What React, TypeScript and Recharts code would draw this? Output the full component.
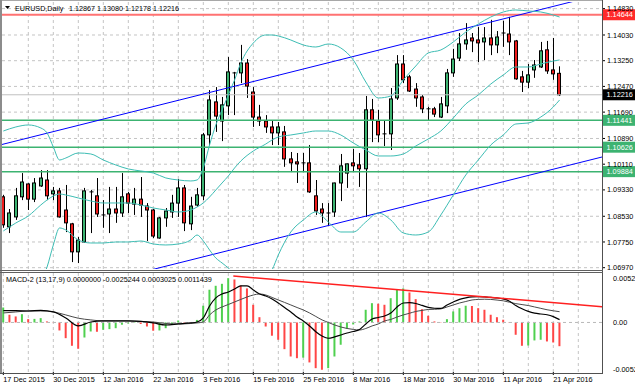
import React from 'react';
import { ComposedChart, Bar, Line, XAxis, YAxis, CartesianGrid, ReferenceLine, Cell } from 'recharts';

const FONT = "'Liberation Sans', Arial, sans-serif";

// time axis labels (one every 8 daily bars)
const dateIdx = [0, 8, 16, 24, 32, 40, 48, 56, 64, 72, 80, 88];
const dateLabels = ['17 Dec 2015', '30 Dec 2015', '12 Jan 2016', '22 Jan 2016', '3 Feb 2016', '15 Feb 2016',
  '25 Feb 2016', '8 Mar 2016', '18 Mar 2016', '30 Mar 2016', '11 Apr 2016', '21 Apr 2016'];

const priceTicks = [1.0697, 1.0775, 1.0853, 1.0933, 1.1011, 1.1089, 1.1169, 1.1247, 1.1325, 1.1403, 1.1483];

// EURUSD daily candles, 17 Dec 2015 .. 22 Apr 2016
const opens = [
  1.0912, 1.0821, 1.0851, 1.0912, 1.0951, 1.0905, 1.0945, 1.0963, 1.0921, 1.0930,
  1.0872, 1.0830, 1.0745, 1.0775, 1.0927, 1.0915, 1.0857, 1.0860, 1.0875, 1.0863,
  1.0921, 1.0890, 1.0905, 1.0884, 1.0872, 1.0787, 1.0848, 1.0866, 1.0893, 1.0939,
  1.0830, 1.0887, 1.0915, 1.1100, 1.1200, 1.1142, 1.1188, 1.1288, 1.1288, 1.1318,
  1.1230, 1.1154, 1.1142, 1.1124, 1.1106, 1.1109, 1.1027, 1.1018, 1.1015, 1.1015,
  1.0915, 1.0875, 1.0863, 1.0866, 1.0954, 1.0984, 1.1015, 1.1009, 1.0997, 1.1176,
  1.1142, 1.1103, 1.1103, 1.1212, 1.1315, 1.1276, 1.1239, 1.1215, 1.1179, 1.1179,
  1.1154, 1.1188, 1.1288, 1.1333, 1.1376, 1.1394, 1.1388, 1.1382, 1.1394, 1.1373,
  1.1409, 1.1406, 1.1385, 1.1276, 1.1260, 1.1297, 1.1306, 1.1358, 1.1297, 1.12867,
];
const highs = [
  1.0918, 1.0875, 1.0939, 1.0984, 1.0953, 1.0969, 1.0993, 1.0993, 1.0942, 1.0939,
  1.0948, 1.0833, 1.0790, 1.0939, 1.0933, 1.0969, 1.0902, 1.0942, 1.0942, 1.0984,
  1.0927, 1.0939, 1.0972, 1.0893, 1.0875, 1.0851, 1.0878, 1.0918, 1.0966, 1.0948,
  1.0912, 1.0939, 1.1106, 1.1236, 1.1245, 1.1215, 1.1336, 1.1291, 1.1373, 1.1330,
  1.1245, 1.1191, 1.1160, 1.1145, 1.1139, 1.1127, 1.1048, 1.1045, 1.1045, 1.1069,
  1.0963, 1.0893, 1.0893, 1.0955, 1.1042, 1.1013, 1.1057, 1.1045, 1.1218, 1.1209,
  1.1176, 1.1145, 1.1242, 1.1342, 1.1342, 1.1282, 1.1257, 1.1221, 1.1185, 1.1185,
  1.1215, 1.1300, 1.1361, 1.1409, 1.1439, 1.1409, 1.1427, 1.1427, 1.1449, 1.1415,
  1.1446, 1.1458, 1.1388, 1.1294, 1.1315, 1.1327, 1.1382, 1.1385, 1.1394, 1.13080,
];
const lows = [
  1.0818, 1.0802, 1.0842, 1.0902, 1.0872, 1.0896, 1.0942, 1.0902, 1.0902, 1.0849,
  1.0805, 1.0714, 1.0711, 1.0773, 1.0802, 1.0851, 1.0818, 1.0802, 1.0833, 1.0851,
  1.0863, 1.0857, 1.0851, 1.0778, 1.0787, 1.0785, 1.0821, 1.0848, 1.0851, 1.0808,
  1.0811, 1.0882, 1.0902, 1.1069, 1.1109, 1.1081, 1.1160, 1.1160, 1.1257, 1.1212,
  1.1124, 1.1127, 1.1106, 1.1069, 1.1069, 1.1003, 1.0987, 1.0954, 1.0987, 1.0924,
  1.0857, 1.0833, 1.0824, 1.0851, 1.0899, 1.0939, 1.0990, 1.0942, 1.0851, 1.1078,
  1.1078, 1.1066, 1.1054, 1.1206, 1.1257, 1.1230, 1.1185, 1.1166, 1.1145, 1.1154,
  1.1151, 1.1166, 1.1276, 1.1324, 1.1358, 1.1351, 1.1321, 1.1327, 1.1342, 1.1348,
  1.1367, 1.1342, 1.1267, 1.1230, 1.1242, 1.1273, 1.1303, 1.1285, 1.1267, 1.12178,
];
const closes = [
  1.0827, 1.0863, 1.0915, 1.0957, 1.0905, 1.0954, 1.0969, 1.0915, 1.0930, 1.0851,
  1.0833, 1.0745, 1.0781, 1.0930, 1.0926, 1.0860, 1.0856, 1.0875, 1.0863, 1.0912,
  1.0893, 1.0905, 1.0887, 1.0872, 1.0793, 1.0848, 1.0869, 1.0893, 1.0939, 1.0833,
  1.0884, 1.0918, 1.1100, 1.1206, 1.1157, 1.1191, 1.1291, 1.1285, 1.1318, 1.1248,
  1.1154, 1.1142, 1.1124, 1.1106, 1.1124, 1.1027, 1.1015, 1.1012, 1.1014, 1.0927,
  1.0869, 1.0863, 1.0862, 1.0954, 1.1006, 1.1012, 1.1006, 1.0997, 1.1176, 1.1145,
  1.1100, 1.1102, 1.1209, 1.1315, 1.1267, 1.1233, 1.1212, 1.1179, 1.1178, 1.1163,
  1.1194, 1.1288, 1.1330, 1.1376, 1.1388, 1.1385, 1.1379, 1.1394, 1.1373, 1.1397,
  1.1408, 1.1382, 1.1270, 1.1260, 1.1282, 1.1312, 1.1355, 1.1294, 1.1285, 1.12216,
];

// Bollinger bands, read at these bar indices
const bandIdx = [0, 2, 4, 6, 7, 8, 9, 10, 12, 14, 16, 18, 20, 22, 24, 26, 28, 30, 31, 32, 33, 34, 35, 36, 37, 38,
  40, 42, 43, 44, 46, 48, 50, 52, 54, 56, 58, 60, 62, 64, 66, 68, 70, 72, 74, 76, 78, 80, 82, 84, 86, 88, 89];
const bandUpper = [1.11117, 1.11239, 1.11300, 1.11209, 1.11057, 1.10632, 1.10238, 1.10298,
  1.10450, 1.10420, 1.10238, 1.10086, 1.09965, 1.09904, 1.09843, 1.09692, 1.09631, 1.09601,
  1.09631, 1.09995, 1.10693, 1.11300, 1.11755, 1.12210, 1.12665, 1.13181,
  1.13787, 1.14030, 1.14030, 1.14000, 1.13878, 1.13727, 1.13666, 1.13757, 1.13636, 1.13272, 1.12604, 1.12119,
  1.12179, 1.12665, 1.13090, 1.13484, 1.13575, 1.13818, 1.14121, 1.14364, 1.14576, 1.14728, 1.14789, 1.14758,
  1.14728, 1.14637, 1.14576];
const bandMid = [1.08084, 1.08326, 1.08539, 1.08872, 1.09024, 1.09145, 1.09206, 1.09176,
  1.09085, 1.08994, 1.08933, 1.08933, 1.08933, 1.08872, 1.08781, 1.08721, 1.08660, 1.08721,
  1.08812, 1.08933, 1.09115, 1.09327, 1.09540, 1.09752, 1.09995, 1.10207,
  1.10511, 1.10723, 1.10844, 1.10935, 1.10996, 1.11057, 1.11117, 1.11117, 1.10996, 1.10753, 1.10541, 1.10359,
  1.10359, 1.10420, 1.10662, 1.10875, 1.11117, 1.11512, 1.11937, 1.12210, 1.12543, 1.12817, 1.13059, 1.13059,
  1.13150, 1.13241, 1.13272];
const bandLower = [1.05050, 1.05414, 1.05778, 1.06536, 1.06991, 1.07659, 1.08175, 1.08114,
  1.07810, 1.07719, 1.07719, 1.07750, 1.07750, 1.07780, 1.07689, 1.07659, 1.07689, 1.07810,
  1.07962, 1.07780, 1.07507, 1.07264, 1.07113, 1.06961, 1.06779, 1.06597,
  1.06445, 1.06597, 1.06900, 1.07355, 1.08053, 1.08417, 1.08660, 1.08357, 1.08053, 1.08053, 1.08357, 1.08630,
  1.08417, 1.08023, 1.07962, 1.08053, 1.08569, 1.09176, 1.09783, 1.10238, 1.10693, 1.10996, 1.11330, 1.11360,
  1.11542, 1.11846, 1.12058];

// horizontal levels
const resistanceLevel = 1.14644;
const supportLevels = [1.11441, 1.10626, 1.09884];
const lastPrice = 1.12216;

// channel lines: [bar index, price]
const upperChannel = [[-0.53, 1.10693], [95.79, 1.15268]];
const lowerChannel = [[20, 1.0673], [95.79, 1.10328]];

// MACD-2 (13,17,9)
const histValues = [
  0.00159, 0.00082, 0.00064, 0.00088, 0.00035, 0.00038, 0.00046, 0.00011, 0.00003, -0.00085,
  -0.00167, -0.00248, -0.00280, -0.00160, -0.00096, -0.00099, -0.00078, -0.00071, -0.00061, -0.00024,
  -0.00011, -0.00005, -0.00016, -0.00043, -0.00088, -0.00085, -0.00061, -0.00024, 0.00021, 0.00005,
  0.00003, 0.00027, 0.00178, 0.00348, 0.00390, 0.00411, 0.00471, 0.00457, 0.00393, 0.00362,
  0.00188, 0.00056, -0.00043, -0.00141, -0.00184, -0.00284, -0.00362, -0.00380, -0.00374, -0.00425,
  -0.00486, -0.00503, -0.00486, -0.00362, -0.00237, -0.00064, -0.00021, 0.00011, 0.00135, 0.00205,
  0.00199, 0.00188, 0.00258, 0.00354, 0.00362, 0.00319, 0.00248, 0.00141, 0.00071, 0.00011,
  0.00003, 0.00035, 0.00117, 0.00152, 0.00178, 0.00175, 0.00152, 0.00135, 0.00082, 0.00056,
  0.00029, 0.00005, -0.00131, -0.00248, -0.00245, -0.00191, -0.00184, -0.00202, -0.00213, -0.0025244,
];
const macdIdx = [0, 2, 4, 6, 8, 10, 12, 14, 16, 18, 20, 22, 24, 26, 28, 30,
  31, 32, 33, 34, 35, 36, 37, 38, 39, 40, 41, 42, 43, 44, 45, 46, 47, 48, 49, 50, 51, 52, 53, 54, 55, 56, 57, 58, 59,
  60, 61, 62, 63, 64, 65, 66, 67, 68, 69, 70, 71, 72, 73, 74, 75, 76, 77, 78, 79, 80, 81, 82, 83, 84, 85, 86, 87, 88, 89];
const macdMain = [0.00125, 0.00125, 0.00122, 0.00128, 0.00112, 0.00048, -0.00037, 0.00005, 0.00016, 0.00016,
  0.00016, 0.00011, -0.00005, -0.00027, -0.00016, -0.00005,
  0.00005, 0.00048, 0.00175, 0.00261, 0.00303, 0.00324, 0.00356, 0.00388, 0.00388,
  0.00346, 0.00303, 0.00282, 0.00250, 0.00207, 0.00159, 0.00112, 0.00058, 0.00016, -0.00037,
  -0.00098, -0.00144, -0.00168, -0.00154, -0.00133, -0.00112, -0.00096, -0.00074, -0.00016, 0.00037,
  0.00053, 0.00069, 0.00101, 0.00165, 0.00207, 0.00211, 0.00202, 0.00181, 0.00160, 0.00151,
  0.00149, 0.00186, 0.00218, 0.00245, 0.00261, 0.00271, 0.00274, 0.00271, 0.00266, 0.00261,
  0.00250, 0.00225, 0.00180, 0.00145, 0.00118, 0.00100, 0.00090, 0.00082, 0.00062, 0.0003025];
const macdSignal = [0.00101, 0.00112, 0.00122, 0.00122, 0.00112, 0.00080, 0.00045, 0.00027, 0.00016, 0.00016,
  0.00016, 0.00011, 0.00005, -0.00011, -0.00016, -0.00011,
  -0.00005, 0.00005, 0.00080, 0.00133, 0.00165, 0.00191, 0.00218, 0.00245, 0.00271,
  0.00292, 0.00303, 0.00292, 0.00266, 0.00239, 0.00213, 0.00186, 0.00159, 0.00133, 0.00101,
  0.00064, 0.00027, 0.00000, -0.00027, -0.00048, -0.00064, -0.00074, -0.00080, -0.00064, -0.00037,
  -0.00016, 0.00016, 0.00032, 0.00058, 0.00080, 0.00098, 0.00117, 0.00128, 0.00138, 0.00140,
  0.00144, 0.00165, 0.00186, 0.00207, 0.00223, 0.00239, 0.00245, 0.00247, 0.00245, 0.00238,
  0.00230, 0.00215, 0.00200, 0.00190, 0.00180, 0.00165, 0.00150, 0.00135, 0.00124, 0.0011439];
const macdTrend = [[36.8, 0.00494], [95.8, 0.00168]];
const macdTicks = [-0.005268, 0, 0.005259];

const X_DOMAIN: [number, number] = [-0.21, 95.79];
const P_DOMAIN: [number, number] = [1.0693, 1.15031];
const M_DOMAIN: [number, number] = [-0.005268, 0.005259];
const gridIdx = Array.from({ length: 24 }, (_, k) => k * 4);

const candleRows = opens.map((o, i) => ({
  i, o, h: highs[i], l: lows[i], c: closes[i], range: [lows[i], highs[i]],
}));
const bandRows = bandIdx.map((i, k) => ({ i, up: bandUpper[k], mid: bandMid[k], lo: bandLower[k] }));
const histRows = histValues.map((h, i) => ({ i, h }));
const macdRows = macdIdx.map((i, k) => ({ i, main: macdMain[k], signal: macdSignal[k] }));

const Candle = (props: any) => {
  const { x, y, width, height, payload } = props;
  if (!payload || height == null) return null;
  const { o, h, l, c } = payload;
  const top = Math.min(y, y + height);
  const span = Math.abs(height);
  const k = span / (h - l);
  const cx = Math.round(x + width / 2) + 0.5;
  const yo = top + (h - o) * k;
  const yc = top + (h - c) * k;
  const bTop = Math.min(yo, yc);
  const bH = Math.abs(yo - yc);
  const fill = c > o ? '#3cb371' : '#ee1c1c';
  return (
    <g>
      <line x1={cx} x2={cx} y1={top} y2={top + span} stroke="#000" strokeWidth={1} />
      {bH < 1.2 ? (
        <line x1={cx - 2} x2={cx + 2} y1={bTop} y2={bTop} stroke="#000" strokeWidth={1} />
      ) : (
        <rect x={cx - 2} y={bTop} width={3} height={bH} fill={fill} stroke="#000" strokeWidth={1} />
      )}
    </g>
  );
};

const PriceTick = ({ x, y, payload }: any) => (
  <text x={x} y={y + 2.6} fontSize={7.3} fontFamily={FONT} fill="#000">{Number(payload.value).toFixed(5)}</text>
);

const MacdTick = ({ x, y, payload }: any) => {
  const v = payload.value;
  const dy = v > 0.001 ? 5 : v < -0.001 ? -3 : 0;
  const txt = v === 0 ? '0.00' : v.toFixed(6);
  return <text x={x} y={y + dy + 2.6} fontSize={7.3} fontFamily={FONT} fill="#000">{txt}</text>;
};

const DateTick = ({ x, y, payload }: any) => {
  const k = dateIdx.indexOf(payload.value);
  return <text x={x} y={y + 7} fontSize={7.3} fontFamily={FONT} fill="#000">{dateLabels[k]}</text>;
};

const PriceBox = ({ viewBox, text, fill }: any) => {
  const right = (viewBox?.x ?? 2) + (viewBox?.width ?? 600);
  const yc = viewBox?.y ?? 0;
  return (
    <g>
      <rect x={right + 1} y={yc - 5.5} width={33} height={11} fill={fill} />
      <text x={right + 4.5} y={yc + 2.6} fontSize={7.3} fontFamily={FONT} fill="#fff">{text}</text>
    </g>
  );
};

export default function App() {
  return (
    <div style={{ position: 'absolute', left: 0, top: 0, width: 635, height: 391, background: '#fff', overflow: 'hidden' }}>
      <div style={{ position: 'absolute', left: 0, top: 0 }}>
        <ComposedChart width={635} height={274} data={candleRows} margin={{ top: 2, right: 0, bottom: 5, left: 2 }}>
          <CartesianGrid stroke="#c4c4c4" strokeDasharray="3 3" horizontalValues={priceTicks} verticalValues={gridIdx} />
          <XAxis type="number" dataKey="i" domain={X_DOMAIN} hide allowDataOverflow />
          <YAxis type="number" orientation="right" domain={P_DOMAIN} ticks={priceTicks} interval={0} width={33}
            allowDataOverflow axisLine={false} tickSize={3} tickMargin={2} tickLine={{ stroke: '#000' }} tick={PriceTick} />
          <ReferenceLine y={lastPrice} stroke="#c0c0c0" strokeWidth={1}
            label={<PriceBox text={lastPrice.toFixed(5)} fill="#000" />} />
          <ReferenceLine y={resistanceLevel} stroke="#ff7272" strokeWidth={2}
            label={<PriceBox text={resistanceLevel.toFixed(5)} fill="#ff2a2a" />} />
          {supportLevels.map((v) => (
            <ReferenceLine key={v} y={v} stroke="#3cb371" strokeWidth={1.5}
              label={<PriceBox text={v.toFixed(5)} fill="#3cb371" />} />
          ))}
          <ReferenceLine segment={upperChannel.map(([x, y]) => ({ x, y }))} stroke="#0000ff" strokeWidth={1} ifOverflow="hidden" />
          <ReferenceLine segment={lowerChannel.map(([x, y]) => ({ x, y }))} stroke="#0000ff" strokeWidth={1} ifOverflow="hidden" />
          <Bar dataKey="range" barSize={4} shape={Candle} isAnimationActive={false} />
          <Line data={bandRows} dataKey="up" type="monotone" stroke="#3dbdb4" strokeWidth={1} dot={false} isAnimationActive={false} />
          <Line data={bandRows} dataKey="mid" type="monotone" stroke="#3dbdb4" strokeWidth={1} dot={false} isAnimationActive={false} />
          <Line data={bandRows} dataKey="lo" type="monotone" stroke="#3dbdb4" strokeWidth={1} dot={false} isAnimationActive={false} />
        </ComposedChart>
      </div>
      <div style={{ position: 'absolute', left: 0, top: 270 }}>
        <ComposedChart width={635} height={121} data={histRows} margin={{ top: 3, right: 0, bottom: 0, left: 2 }}>
          <CartesianGrid stroke="#c4c4c4" strokeDasharray="3 3" horizontal={false} verticalValues={gridIdx} />
          <XAxis type="number" dataKey="i" domain={X_DOMAIN} ticks={dateIdx} interval={0} height={19}
            allowDataOverflow axisLine={false} tickSize={3} tickMargin={0} tickLine={{ stroke: '#000' }} tick={DateTick} />
          <YAxis type="number" orientation="right" domain={M_DOMAIN} ticks={macdTicks} interval={0} width={33}
            allowDataOverflow axisLine={false} tickLine={false} tickMargin={5} tick={MacdTick} />
          <ReferenceLine y={0} stroke="#b8b8b8" strokeDasharray="3 3" />
          <Bar dataKey="h" barSize={2} isAnimationActive={false}>
            {histRows.map((r, k) => (
              <Cell key={k} fill={k > 0 && r.h < histValues[k - 1] ? '#ff4646' : '#4fd04f'} />
            ))}
          </Bar>
          <Line data={macdRows} dataKey="signal" type="monotone" stroke="#4a4a4a" strokeWidth={1} dot={false} isAnimationActive={false} />
          <Line data={macdRows} dataKey="main" type="monotone" stroke="#000" strokeWidth={1.2} dot={false} isAnimationActive={false} />
          <ReferenceLine segment={macdTrend.map(([x, y]) => ({ x, y }))} stroke="#ff2020" strokeWidth={1.5} ifOverflow="hidden" />
        </ComposedChart>
      </div>
      <svg width={635} height={391} style={{ position: 'absolute', left: 0, top: 0, pointerEvents: 'none' }}>
        <line x1={0} x2={603} y1={0.5} y2={0.5} stroke="#a8a8a8" />
        <line x1={1} x2={1} y1={0} y2={374} stroke="#8c8c8c" strokeWidth={2} />
        <line x1={602.5} x2={602.5} y1={0} y2={374} stroke="#505050" />
        <line x1={0} x2={603} y1={270.5} y2={270.5} stroke="#606060" />
        <line x1={0} x2={603} y1={272.5} y2={272.5} stroke="#606060" />
        <line x1={0} x2={603} y1={373.5} y2={373.5} stroke="#505050" />
        <polygon points="5,6 10,6 7.5,9" fill="#000" />
        <text x={15} y={11} fontSize={7.2} fontFamily={FONT} fill="#000">EURUSD,Daily</text>
        <text x={69} y={11} fontSize={7.2} fontFamily={FONT} fill="#000">1.12867 1.13080 1.12178 1.12216</text>
        <text x={6} y={281.5} fontSize={7.25} fontFamily={FONT} fill="#000">MACD-2 (13,17,9) 0.0000000 -0.0025244 0.0003025 0.0011439</text>
      </svg>
    </div>
  );
}
